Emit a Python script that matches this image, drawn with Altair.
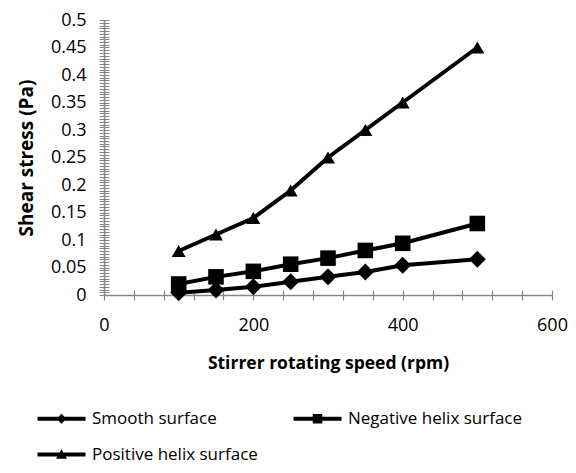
import altair as alt
import pandas as pd

rpm = [100, 150, 200, 250, 300, 350, 400, 500]
smooth = [0.004, 0.009, 0.015, 0.024, 0.033, 0.042, 0.054, 0.065]
negative = [0.02, 0.033, 0.043, 0.056, 0.067, 0.081, 0.094, 0.13]
positive = [0.08, 0.11, 0.14, 0.19, 0.25, 0.30, 0.35, 0.45]
series_names = ["Smooth surface", "Negative helix surface", "Positive helix surface"]

x_major = [0, 200, 400, 600]
x_minor = [0, 40, 80, 120, 160, 200, 240, 280, 320, 360, 400, 440, 480, 520, 560, 600]
y_major = [0, 0.05, 0.1, 0.15, 0.2, 0.25, 0.3, 0.35, 0.4, 0.45, 0.5]
y_minor = [round(i * 0.005, 3) for i in range(101)]

rows = []
for name, vals in zip(series_names, [smooth, negative, positive]):
    for r, v in zip(rpm, vals):
        rows.append({"series": name, "rpm": r, "stress": v})
df = pd.DataFrame(rows)

FONT = "Open Sans"
GREY = "#868686"

xscale = alt.Scale(domain=[0, 600], nice=False, zero=False)
yscale = alt.Scale(domain=[0, 0.5], nice=False, zero=False)

x_main_axis = alt.Axis(orient="bottom", values=x_major, ticks=False, domainColor=GREY,
                       domainWidth=1.5, labelFont=FONT, labelFontSize=18, labelColor="black",
                       labelPadding=21, labelFlush=False, grid=False,
                       title="Stirrer rotating speed (rpm)",
                       titleFont=FONT, titleFontSize=17.5, titleFontWeight="bold",
                       titleColor="black", titlePadding=20)
y_main_axis = alt.Axis(orient="left", values=y_major, ticks=False, domainColor=GREY,
                       domainWidth=1.5, labelFont=FONT, labelFontSize=18, labelColor="black",
                       labelPadding=18, labelFlush=False, format="~g", grid=False,
                       title="Shear stress (Pa)",
                       titleFont=FONT, titleFontSize=19, titleFontWeight="bold",
                       titleColor="black", titlePadding=14)
x_tick_axis = alt.Axis(orient="bottom", values=x_minor, labels=False, domain=False, grid=False,
                       tickColor=GREY, tickSize=10, tickWidth=1.2, offset=-5, title=None)
y_tick_axis = alt.Axis(orient="left", values=y_minor, labels=False, domain=False, grid=False,
                       tickColor=GREY, tickSize=10, tickWidth=1, offset=-5, title=None)

base = alt.Chart(df)

lines = base.mark_line(color="black", strokeWidth=4).encode(
    x=alt.X("rpm:Q", scale=xscale, axis=x_main_axis),
    y=alt.Y("stress:Q", scale=yscale, axis=y_main_axis),
    detail="series:N",
)

points = base.mark_point(filled=True, color="black", opacity=1).encode(
    x=alt.X("rpm:Q", scale=xscale, axis=x_tick_axis),
    y=alt.Y("stress:Q", scale=yscale, axis=y_tick_axis),
    shape=alt.Shape("series:N", scale=alt.Scale(domain=series_names,
                    range=["diamond", "square", "triangle-up"]), legend=None),
    size=alt.Size("series:N", scale=alt.Scale(domain=series_names, range=[289, 196, 400]),
                  legend=None),
)

legend_paths = [
    "M-4.8,-0.4H4.8V0.4H-4.8Z M0,-1L1,0L0,1L-1,0Z",
    "M-4.8,-0.4H4.8V0.4H-4.8Z M-0.95,-0.95H0.95V0.95H-0.95Z",
    "M-4.8,-0.4H4.8V0.4H-4.8Z M0,-1.05L1.1,0.85H-1.1Z",
]

legend_layer = base.transform_filter("false").mark_point(
    filled=True, color="black", opacity=1, size=100
).encode(
    x=alt.X("rpm:Q", scale=xscale, axis=None),
    y=alt.Y("stress:Q", scale=yscale, axis=None),
    shape=alt.Shape("series:N", scale=alt.Scale(domain=series_names, range=legend_paths),
                    legend=alt.Legend(orient="none", direction="horizontal",
                                      legendX=-51, legendY=390, columns=2,
                                      columnPadding=35, rowPadding=18, title=None,
                                      labelFont=FONT, labelFontSize=17, labelColor="black",
                                      labelOffset=22, labelLimit=400, symbolFillColor="black",
                                      symbolStrokeWidth=0, symbolOpacity=1, symbolSize=100,
                                      padding=0)),
)

chart = alt.layer(lines, points, legend_layer).resolve_scale(
    shape="independent", size="independent"
).resolve_axis(
    x="independent", y="independent"
).properties(
    width=448, height=275,
    autosize=alt.AutoSizeParams(type="none"),
    padding={"left": 96, "top": 12, "right": 16, "bottom": 170},
).configure_view(stroke=None)

chart.save("out.html", embed_options={"renderer": "svg", "actions": False})
